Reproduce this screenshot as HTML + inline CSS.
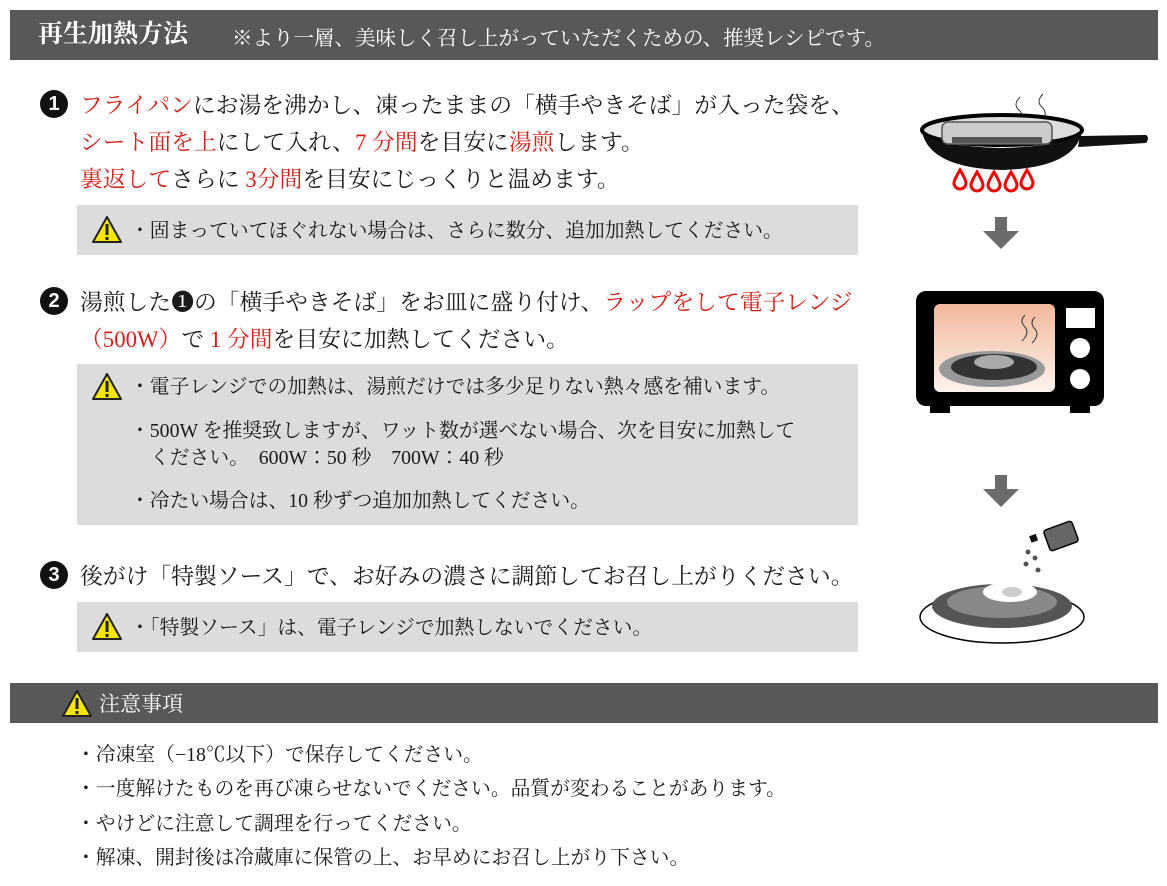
<!DOCTYPE html>
<html><head><meta charset="utf-8"><style>
body{margin:0;width:1167px;height:886px;background:#fff;position:relative;overflow:hidden;font-family:"Liberation Serif","Noto Serif CJK JP","Noto Serif CJK SC",serif;color:#1a1a1a}
.a{position:absolute;white-space:nowrap;line-height:1}
.bar{position:absolute;left:10px;width:1148px;background:#5a5758}
.box{position:absolute;left:77px;width:781px;background:#dcdcdc}
.r{color:#d0201a}
.s1{font-size:22.8px}
.s2{font-size:19.8px}
.num{position:absolute;width:28px;height:28px;border-radius:50%;background:#111;color:#fff;font:bold 20px "Liberation Sans",sans-serif;text-align:center;line-height:28px}
</style></head><body>
<svg width="0" height="0" style="position:absolute"><defs><g id="w"><polygon points="15,1 29,26 1,26" fill="#f5e600" stroke="#222" stroke-width="2" stroke-linejoin="round"/><rect x="13.5" y="8" width="3" height="11" fill="#222"/><rect x="13.5" y="21" width="3" height="3" fill="#222"/></g></defs></svg>

<div class="bar" style="top:10px;height:50px"></div>
<div class="a" style="left:38px;top:22px;font-size:25px;font-weight:bold;color:#fff">再生加熱方法</div>
<div class="a" style="left:232px;top:29px;font-size:20.5px;color:#fff">※より一層、美味しく召し上がっていただくための、推奨レシピです。</div>

<div class="num" style="left:40px;top:90px">1</div>
<div class="a s1" style="left:80px;top:95px"><span class="r">フライパン</span>にお湯を沸かし、凍ったままの「横手やきそば」が入った袋を、</div>
<div class="a s1" style="left:80px;top:132px"><span class="r">シート面を上</span>にして入れ、<span class="r">7 分間</span>を目安に<span class="r">湯煎</span>します。</div>
<div class="a s1" style="left:80px;top:169px"><span class="r">裏返して</span>さらに <span class="r">3分間</span>を目安にじっくりと温めます。</div>

<div class="box" style="top:205px;height:50px"></div>
<svg class="a" style="left:92px;top:216px" width="31" height="28"><use href="#w"/></svg>
<div class="a s2" style="left:130px;top:222px">・固まっていてほぐれない場合は、さらに数分、追加加熱してください。</div>

<div class="num" style="left:40px;top:287px">2</div>
<div class="a s1" style="left:80px;top:292px">湯煎した❶の「横手やきそば」をお皿に盛り付け、<span class="r">ラップをして電子レンジ</span></div>
<div class="a s1" style="left:80px;top:329px"><span class="r">（500W）</span>で <span class="r">1 分間</span>を目安に加熱してください。</div>

<div class="box" style="top:364px;height:161px"></div>
<svg class="a" style="left:92px;top:373px" width="31" height="28"><use href="#w"/></svg>
<div class="a s2" style="left:130px;top:378px">・電子レンジでの加熱は、湯煎だけでは多少足りない熱々感を補います。</div>
<div class="a s2" style="left:130px;top:422px">・500W を推奨致しますが、ワット数が選べない場合、次を目安に加熱して</div>
<div class="a s2" style="left:150px;top:449px">ください。　600W：50 秒　700W：40 秒</div>
<div class="a s2" style="left:130px;top:492px">・冷たい場合は、10 秒ずつ追加加熱してください。</div>

<div class="num" style="left:40px;top:561px">3</div>
<div class="a s1" style="left:80px;top:566px">後がけ「特製ソース」で、お好みの濃さに調節してお召し上がりください。</div>

<div class="box" style="top:602px;height:50px"></div>
<svg class="a" style="left:92px;top:613px" width="31" height="28"><use href="#w"/></svg>
<div class="a s2" style="left:130px;top:619px">・「特製ソース」は、電子レンジで加熱しないでください。</div>

<div class="bar" style="top:683px;height:40px"></div>
<svg class="a" style="left:62px;top:690px" width="31" height="28"><use href="#w"/></svg>
<div class="a" style="left:99px;top:694px;font-size:21px;color:#fff">注意事項</div>
<div class="a s2" style="left:76px;top:746px">・冷凍室（−18℃以下）で保存してください。</div>
<div class="a s2" style="left:76px;top:780px">・一度解けたものを再び凍らせないでください。品質が変わることがあります。</div>
<div class="a s2" style="left:76px;top:815px">・やけどに注意して調理を行ってください。</div>
<div class="a s2" style="left:76px;top:849px">・解凍、開封後は冷蔵庫に保管の上、お早めにお召し上がり下さい。</div>

<svg class="a" style="left:900px;top:80px" width="267" height="580">
 <path d="M120 17 q-8 8 0 14 q6 8 -4 14" fill="none" stroke="#333" stroke-width="1"/>
 <path d="M143 14 q-8 8 0 14 q6 8 -4 14" fill="none" stroke="#333" stroke-width="1"/>
 <ellipse cx="102" cy="50" rx="80" ry="15" fill="#ddd" stroke="#000" stroke-width="4"/>
 <path d="M22 52 Q30 88 102 90 Q174 88 182 52 Q170 66 102 68 Q34 66 22 52Z" fill="#111"/>
 <rect x="42" y="42" width="110" height="22" rx="6" fill="#ccc" stroke="#555" stroke-width="1.5"/>
 <rect x="52" y="57" width="90" height="6" fill="#555"/>
 <path d="M180 56 L246 55 Q250 58 246 63 L178 67Z" fill="#111"/>
 <g fill="#fff" stroke="#e00" stroke-width="3">
  <path d="M60 90 q-6 10 -6 13 a6 6 0 0 0 12 0 q0 -3 -6 -13z"/>
  <path d="M77 92 q-6 10 -6 13 a6 6 0 0 0 12 0 q0 -3 -6 -13z"/>
  <path d="M94 92 q-6 10 -6 13 a6 6 0 0 0 12 0 q0 -3 -6 -13z"/>
  <path d="M111 92 q-6 10 -6 13 a6 6 0 0 0 12 0 q0 -3 -6 -13z"/>
  <path d="M127 90 q-6 10 -6 13 a6 6 0 0 0 12 0 q0 -3 -6 -13z"/>
 </g>
 <path d="M95 137 h12 v14 h12 l-18 18 l-18 -18 h12z" fill="#6b6b6b"/>
 <defs><linearGradient id="g" x1="0" y1="0" x2="0" y2="1"><stop offset="0" stop-color="#f2b89a"/><stop offset="1" stop-color="#fdf3ee"/></linearGradient></defs>
 <rect x="16" y="211" width="188" height="115" rx="10" fill="#000"/>
 <rect x="30" y="325" width="20" height="8" fill="#000"/><rect x="170" y="325" width="20" height="8" fill="#000"/>
 <rect x="34" y="224" width="121" height="88" rx="6" fill="url(#g)"/>
 <rect x="166" y="228" width="29" height="20" fill="#fff"/>
 <circle cx="180" cy="268" r="10" fill="#fff"/><circle cx="180" cy="299" r="10" fill="#fff"/>
 <ellipse cx="92" cy="289" rx="53" ry="18" fill="#999"/>
 <ellipse cx="94" cy="287" rx="43" ry="13" fill="#333"/>
 <ellipse cx="94" cy="282" rx="20" ry="7" fill="#aaa"/>
 <path d="M125 235 q-6 6 0 12 q5 6 -3 14" fill="none" stroke="#333"/><path d="M135 237 q-6 6 0 12 q5 6 -3 14" fill="none" stroke="#333"/>
 <path d="M95 395 h12 v14 h12 l-18 18 l-18 -18 h12z" fill="#6b6b6b"/>
 <rect x="146" y="445" width="30" height="22" rx="3" transform="rotate(-20 161 456)" fill="#666" stroke="#000" stroke-width="1.5"/>
 <rect x="130" y="455" width="7" height="7" fill="#111" transform="rotate(-20 133 458)"/>
 <g fill="#555"><circle cx="128" cy="472" r="2.5"/><circle cx="135" cy="478" r="2.5"/><circle cx="126" cy="484" r="2.5"/><circle cx="138" cy="490" r="2.5"/></g>
 <ellipse cx="102" cy="537" rx="82" ry="26" fill="#fff" stroke="#000" stroke-width="1.5"/>
 <ellipse cx="102" cy="526" rx="70" ry="22" fill="#555"/>
 <ellipse cx="102" cy="522" rx="55" ry="16" fill="#888"/>
 <ellipse cx="110" cy="512" rx="27" ry="10" fill="#fff"/>
 <ellipse cx="112" cy="512" rx="10" ry="5" fill="#ccc"/>
</svg>
</body></html>
